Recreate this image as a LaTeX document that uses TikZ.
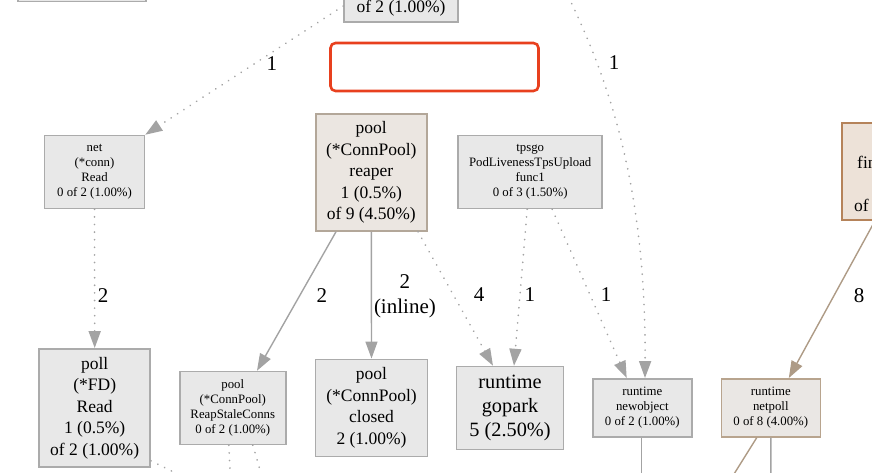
\documentclass[tikz,border=0pt]{standalone}
\usepackage{fontspec}
\setmainfont{Liberation Serif}
\usetikzlibrary{arrows.meta}

\definecolor{nodefill}{HTML}{E8E8E8}
\definecolor{nodeline}{HTML}{ABABAB}
\definecolor{warmfill}{HTML}{EBE6E1}
\definecolor{warmline}{HTML}{B3A799}
\definecolor{hotfill}{HTML}{EDE2D8}
\definecolor{hotline}{HTML}{B5835A}
\definecolor{netfill}{HTML}{EAE7E4}
\definecolor{netline}{HTML}{B8A48E}
\definecolor{edgegray}{HTML}{A3A3A3}
\definecolor{edgewarm}{HTML}{AE9B86}
\definecolor{hlred}{HTML}{E8401E}

\newcommand{\fsmall}{\fontsize{12.8}{15}\selectfont}
\newcommand{\fmid}{\fontsize{17.5}{21.5}\selectfont}
\newcommand{\fbig}{\fontsize{20.3}{24}\selectfont}
\newcommand{\flbl}{\fontsize{21}{25}\selectfont}

\begin{document}
\begin{tikzpicture}[x=1pt,y=-1pt,
  fnbox/.style={draw=nodeline,fill=nodefill,line width=1.5pt,align=center,inner sep=0pt},
  warmbox/.style={fnbox,draw=warmline,fill=warmfill},
  hotbox/.style={fnbox,draw=hotline,fill=hotfill},
  line/.style={line width=1.4pt,draw=edgegray},
  call/.style={line,-{Triangle[length=17pt,width=12pt]}},
  dots/.style={line,dash pattern=on 0.1pt off 7.5pt,line cap=round,line width=1.8pt},
  weak/.style={dots,-{Triangle[length=17pt,width=12pt]}},
  cnt/.style={font=\flbl,inner sep=0pt,text=black}]

  \useasboundingbox (0,0) rectangle (872,473);
  \clip (0,0) rectangle (872,473);

  % nodes cut by the frame
  \node[fnbox,minimum width=128pt,minimum height=61pt] (prev)   at (82,-29)  {};
  \node[fnbox,minimum width=114pt,minimum height=82pt] (caller) at (401,-19) {};
  \node[font=\fmid,inner sep=0pt] (callertxt) at (401,8) {of 2 (1.00\%)};
  \coordinate (farsrc) at (565,-10);
  \node[hotbox,minimum width=124pt,minimum height=97pt] (finder) at (904,171.5) {};
  \node[font=\fmid,inner sep=0pt,anchor=west] (findertxt) at (857,162) {findrunnable};
  \node[font=\fmid,inner sep=0pt,anchor=west] (finderpct) at (854,205) {of};

  \node[draw=hlred,line width=2.6pt,rounded corners=5pt,minimum width=208pt,minimum height=48pt] (mark) at (434.5,67) {};

  \node[fnbox,font=\fsmall,minimum width=100pt,minimum height=73pt] (connread) at (94.5,172)
    {net\\(*conn)\\Read\\0 of 2 (1.00\%)};
  \node[warmbox,font=\fmid,minimum width=111pt,minimum height=117pt] (reaper) at (371.3,172.5)
    {pool\\(*ConnPool)\\reaper\\1 (0.5\%)\\of 9 (4.50\%)};
  \node[fnbox,font=\fsmall,minimum width=144pt,minimum height=73pt] (upload) at (530.2,172)
    {tpsgo\\PodLivenessTpsUpload\\func1\\0 of 3 (1.50\%)};

  \node[fnbox,font=\fmid,minimum width=111pt,minimum height=118pt] (fdread) at (94.7,407.8)
    {poll\\(*FD)\\Read\\1 (0.5\%)\\of 2 (1.00\%)};
  \node[fnbox,font=\fsmall,minimum width=106pt,minimum height=73pt] (reapstale) at (232.8,408)
    {pool\\(*ConnPool)\\ReapStaleConns\\0 of 2 (1.00\%)};
  \node[fnbox,font=\fmid,minimum width=112pt,minimum height=97pt] (closed) at (371.5,407.8)
    {pool\\(*ConnPool)\\closed\\2 (1.00\%)};
  \node[fnbox,font=\fbig,minimum width=107pt,minimum height=83pt] (gopark) at (510,408)
    {runtime\\gopark\\5 (2.50\%)};
  \node[fnbox,font=\fsmall,minimum width=99pt,minimum height=58pt] (newobj) at (642.3,407.8)
    {runtime\\newobject\\0 of 2 (1.00\%)};
  \node[fnbox,draw=netline,fill=netfill,font=\fsmall,minimum width=99pt,minimum height=58pt] (netpoll) at (770.8,407.8)
    {runtime\\netpoll\\0 of 8 (4.00\%)};

  % calls
  \draw[weak] ([yshift=-25pt]caller.west) -- node[cnt,pos=0.35,xshift=-2pt,yshift=-13pt]{1} (connread.north east);
  \draw[weak] (farsrc) .. controls (615,90) and (646,200) .. node[cnt,pos=0.22,xshift=19pt,yshift=-5pt]{1} ([xshift=2.7pt]newobj.north);
  \draw[weak] (connread.south) -- node[cnt,pos=0.625,xshift=8.5pt]{2} (fdread.north);
  \draw[call] ([xshift=-35.3pt]reaper.south) -- node[cnt,pos=0.457,xshift=22pt]{2} ([xshift=24.2pt]reapstale.north);
  \draw[call] (reaper.south) -- node[cnt,pos=0.505,xshift=33.5pt,align=center]{2\\(inline)} (closed.north);
  \draw[weak] ([xshift=46.7pt]reaper.south) -- node[cnt,pos=0.471,xshift=25.7pt]{4} ([xshift=-17pt]gopark.north);
  \draw[weak] ([xshift=-3pt]upload.south) -- node[cnt,pos=0.548,xshift=10pt]{1} ([xshift=4pt]gopark.north);
  \draw[weak] ([xshift=22pt]upload.south) -- node[cnt,pos=0.508,xshift=16pt]{1} ([xshift=-15.6pt]newobj.north);
  \draw[call,draw=edgewarm] ([xshift=-29pt]finder.south) -- node[cnt,pos=0.474,xshift=25pt]{8} ([xshift=18pt]netpoll.north);

  % calls leaving the frame
  \coordinate (out1) at (210,490);
  \coordinate (out2) at (231,490);
  \coordinate (out3) at (266,490);
  \coordinate (out4) at (641.7,490);
  \coordinate (out5) at (724,490);
  \coordinate (out6) at (771,490);
  \draw[dots] ([yshift=-53pt]fdread.east) -- (out1);
  \draw[dots] ([xshift=-4pt]reapstale.south) -- (out2);
  \draw[dots] ([xshift=20pt]reapstale.south) -- (out3);
  \draw[line] ([xshift=-0.6pt]newobj.south) -- (out4);
  \draw[line,draw=edgewarm] ([xshift=-14pt]netpoll.south) -- (out5);
  \draw[line] (netpoll.south) -- (out6);
\end{tikzpicture}
\end{document}
